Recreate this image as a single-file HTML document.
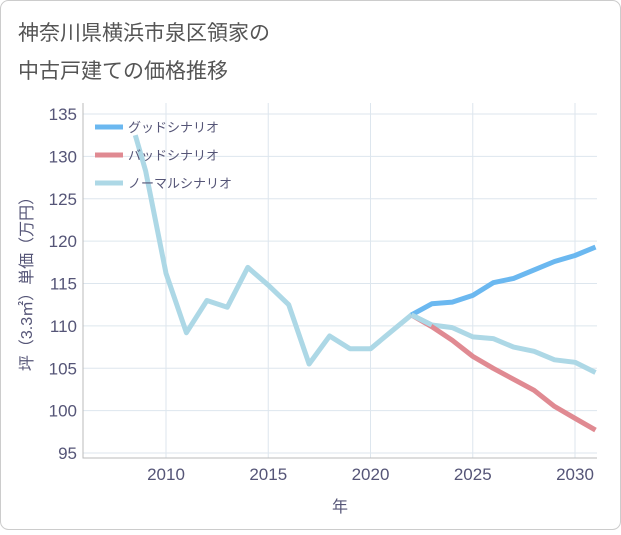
<!DOCTYPE html>
<html><head><meta charset="utf-8"><style>
body{margin:0;background:#fff;}
svg text{font-family:"Liberation Sans","Noto Sans CJK JP",sans-serif;}
</style></head><body>
<svg width="621" height="530" xmlns="http://www.w3.org/2000/svg">
<rect x="0.5" y="0.5" width="620" height="529" rx="8" fill="#fff" stroke="#ccc"/>
<text x="18" y="40" font-size="21" fill="#555">神奈川県横浜市泉区領家の</text>
<text x="18" y="78" font-size="21" fill="#555">中古戸建ての価格推移</text>
<g id="grid"></g>
<g id="series"></g>
<g id="axes"></g>
<text x="0" y="0" font-size="16" fill="#557" transform="translate(32,280) rotate(-90)" text-anchor="middle">坪（3.3㎡）単価（万円）</text>
<text x="340" y="512" font-size="16" fill="#557" text-anchor="middle">年</text>
<g id="legend"></g>
</svg>
<script>
const yTicks=[95,100,105,110,115,120,125,130,135];
const xTicks=[2010,2015,2020,2025,2030];
const normalYears=[2008.5,2009,2010,2011,2012,2013,2014,2015,2016,2017,2018,2019,2020,2021,2022,2023,2024,2025,2026,2027,2028,2029,2030,2031];
const normalVals=[132.5,128.3,116.2,109.2,113,112.2,116.9,114.8,112.5,105.5,108.8,107.3,107.3,109.3,111.3,110.1,109.8,108.7,108.5,107.5,107,106,105.7,104.5];
const futureYears=[2022,2023,2024,2025,2026,2027,2028,2029,2030,2031];
const goodVals=[111.3,112.6,112.8,113.6,115.1,115.6,116.6,117.6,118.3,119.3];
const badVals=[111.3,109.9,108.3,106.4,105,103.7,102.4,100.5,99.1,97.7];
const names=["グッドシナリオ","バッドシナリオ","ノーマルシナリオ"];
const L=83,R=597,T=103,B=458;
const xs=y=>166+(y-2010)*20.45;
const ys=v=>453-(v-95)*8.475;
const NS="http://www.w3.org/2000/svg";
function mk(p,tag,at){const e=document.createElementNS(NS,tag);for(const k in at)e.setAttribute(k,at[k]);p.appendChild(e);return e;}
const grid=document.getElementById('grid'),axes=document.getElementById('axes'),ser=document.getElementById('series'),leg=document.getElementById('legend');
yTicks.forEach(v=>{const l=mk(grid,'line',{x1:L,x2:R,y1:ys(v),y2:ys(v),stroke:'#dde6ee'});

const t=mk(axes,'text',{x:L-6,y:ys(v)+6,'font-size':17,fill:'#557','text-anchor':'end'});t.textContent=v;
});
xTicks.forEach(v=>{const l=mk(grid,'line',{x1:xs(v),x2:xs(v),y1:T,y2:B,stroke:'#dde6ee'});

const t=mk(axes,'text',{x:xs(v),y:B+22,'font-size':17,fill:'#557','text-anchor':'middle'});t.textContent=v;
});
const ax=mk(axes,'path',{d:`M${L},${T}V${B}H${R}`,fill:'none',stroke:'#bbb'});

const cp=mk(ser,'clipPath',{id:'cp'});mk(cp,'rect',{x:L,y:T,width:R-L,height:B-T});
function line(xa,va,col,name){const d=xa.map((x,i)=>(i?'L':'M')+xs(x).toFixed(1)+','+ys(va[i]).toFixed(1)).join('');
const p=mk(ser,'path',{d,fill:'none',stroke:col,'stroke-width':5,'stroke-linejoin':'round','clip-path':'url(#cp)'});
}
line(normalYears,normalVals,'#add8e6','normal-line');
line(futureYears,badVals,'#e08a92','bad-line');
line(futureYears,goodVals,'#6bb8f0','good-line');
line(futureYears.slice(0,2).concat([]),normalVals.slice(14,16),'#add8e6','normal-overlap');
const cols=['#6bb8f0','#e08a92','#add8e6'];
names.forEach((n,i)=>{const y=127+i*28;
const l=mk(leg,'line',{x1:95,x2:123,y1:y,y2:y,stroke:cols[i],'stroke-width':5});

const t=mk(leg,'text',{x:128,y:y+5,'font-size':13,fill:'#557'});t.textContent=n;
});
</script>
</body></html>
